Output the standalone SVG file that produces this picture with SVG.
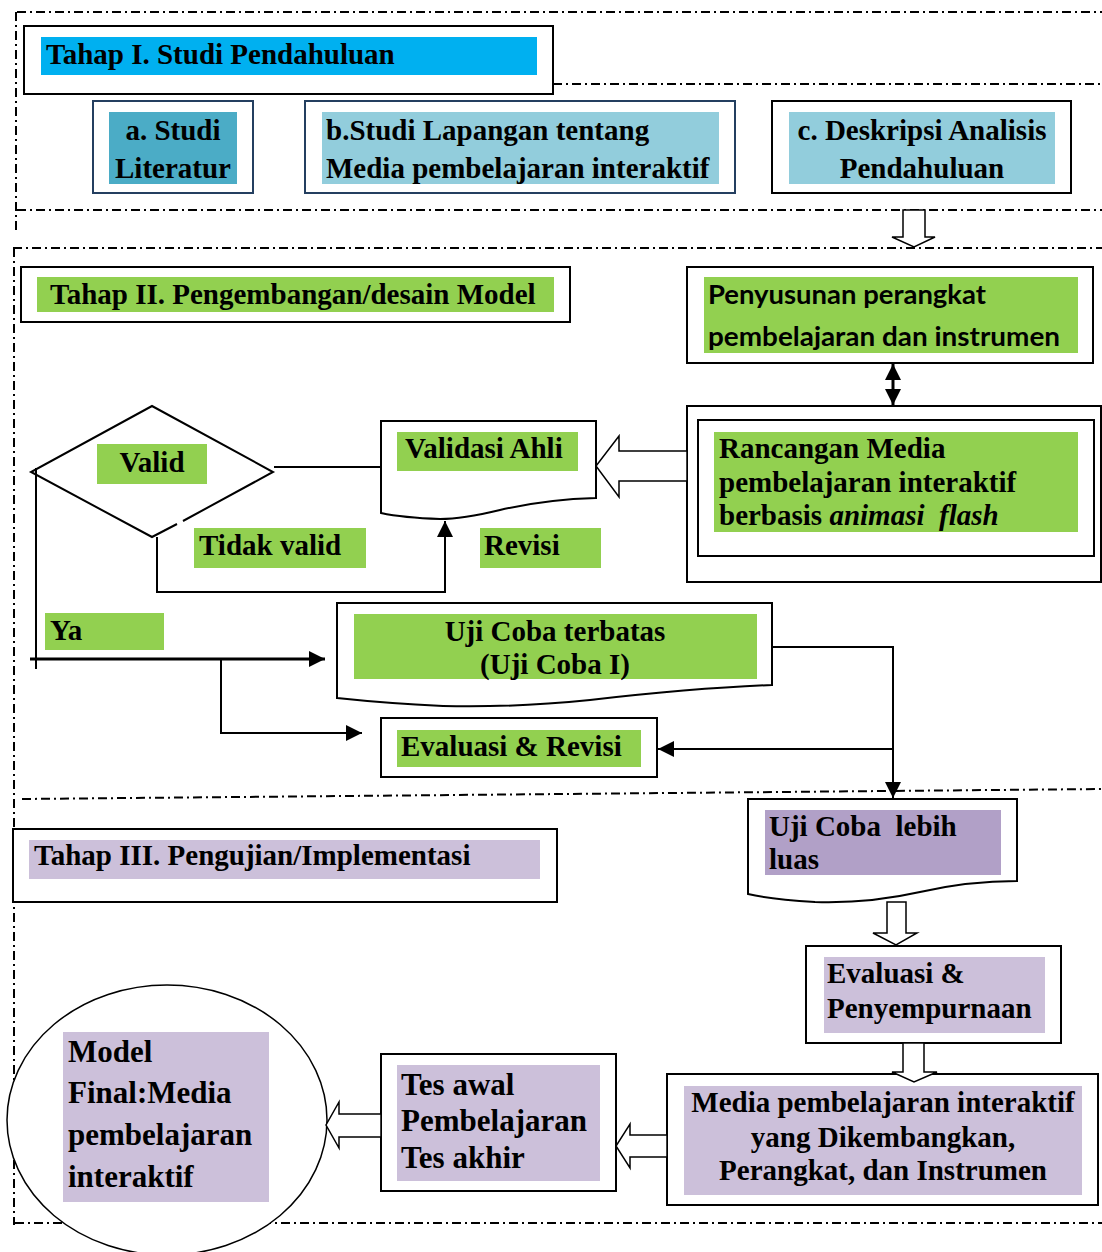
<svg xmlns="http://www.w3.org/2000/svg" width="1102" height="1252" viewBox="0 0 1102 1252">
<style>
.frame{fill:none;stroke:#000;stroke-width:2;stroke-dasharray:9 4 2 4}
.box{fill:#fff;stroke:#000;stroke-width:2}
.nbox{fill:#fff;stroke:#243F60;stroke-width:2}
.t{font-family:"Liberation Serif","Times New Roman",serif;font-weight:bold;font-size:29px;fill:#000}
.tl{font-family:"Liberation Serif","Times New Roman",serif;font-weight:bold;font-size:31px;fill:#000}
.s{font-family:Lato,"Liberation Sans",sans-serif;font-weight:bold;font-size:26px;fill:#000}
.c{text-anchor:middle}
.blue{fill:#00B0F0}.teal{fill:#4BACC6}.lblue{fill:#92CDDC}.green{fill:#92D050}.lav{fill:#CCC0DA}.pur{fill:#B1A0C7}
.ln{fill:none;stroke:#000;stroke-width:2}
.hollow{fill:#fff;stroke:#000;stroke-width:1.5}
</style>
<defs>
<marker id="ah" viewBox="0 0 16 16" refX="16" refY="8" markerWidth="16" markerHeight="16" markerUnits="userSpaceOnUse" orient="auto-start-reverse">
<path d="M0,0 L16,8 L0,16 Z" fill="#000"/>
</marker>
</defs>
<rect width="1102" height="1252" fill="#fff"/>
<g id="frames">
<path class="frame" d="M17,12 H1102"/>
<path class="frame" d="M16,12 V232"/>
<path class="frame" d="M553,84 H1102"/>
<path class="frame" d="M17,210 H1102"/>
<path class="frame" d="M13,248 H1102"/>
<path class="frame" d="M14,248 V1225"/>
<path class="frame" d="M22,799 L1102,789"/>
<path class="frame" d="M15,1223 H1102"/>
</g>
<g id="tahap1">
<rect class="box" x="24" y="26" width="529" height="68"/>
<rect class="blue" x="41" y="37" width="496" height="38"/>
<text class="t" x="46" y="64">Tahap I. Studi Pendahuluan</text>
</g>
<g id="studi-literatur">
<rect class="nbox" x="93" y="101" width="160" height="92"/>
<rect class="teal" x="109" y="112" width="128" height="72"/>
<text class="t c" x="173" y="140">a. Studi</text>
<text class="t c" x="173" y="178">Literatur</text>
</g>
<g id="studi-lapangan">
<rect class="nbox" x="305" y="101" width="430" height="92"/>
<rect class="lblue" x="322" y="112" width="397" height="72"/>
<text class="t" x="326" y="140">b.Studi Lapangan tentang</text>
<text class="t" x="326" y="178">Media pembelajaran interaktif</text>
</g>
<g id="deskripsi">
<rect class="box" x="772" y="101" width="299" height="92"/>
<rect class="lblue" x="789" y="112" width="266" height="72"/>
<text class="t c" x="922" y="140">c. Deskripsi Analisis</text>
<text class="t c" x="922" y="178">Pendahuluan</text>
</g>
<g id="tahap2">
<rect class="box" x="21" y="267" width="549" height="55"/>
<rect class="green" x="37" y="277" width="517" height="35"/>
<text class="t" x="50" y="304">Tahap II. Pengembangan/desain Model</text>
</g>
<g id="penyusunan">
<rect class="box" x="687" y="267" width="406" height="96"/>
<rect class="green" x="704" y="277" width="374" height="76"/>
<text class="s" x="708" y="304" textLength="278" lengthAdjust="spacingAndGlyphs">Penyusunan perangkat</text>
<text class="s" x="708" y="346" textLength="352" lengthAdjust="spacingAndGlyphs">pembelajaran dan instrumen</text>
</g>
<g id="rancangan">
<rect class="box" x="687" y="406" width="414" height="176"/>
<rect class="box" x="698" y="420" width="396" height="136"/>
<rect class="green" x="714" y="432" width="364" height="100"/>
<text class="t" x="719" y="458">Rancangan Media</text>
<text class="t" x="719" y="492">pembelajaran interaktif</text>
<text class="t" x="719" y="525" style="white-space:pre">berbasis <tspan font-style="italic">animasi  flash</tspan></text>
</g>
<g id="validasi">
<path class="box" d="M381,421 H596 V498 C560,499 530,503 500,510 C475,516 455,519 440,519 C410,518 395,516 381,513 Z"/>
<rect class="green" x="397" y="432" width="181" height="39"/>
<text class="t" x="405" y="458">Validasi Ahli</text>
</g>
<g id="diamond">
<path class="ln" d="M183,521 L273,472 L152,406 L31,472 L152,537 L177,524"/>
<rect class="green" x="97" y="444" width="110" height="40"/>
<text class="t c" x="152" y="472">Valid</text>
</g>
<g id="label-tidak">
<rect class="green" x="194" y="528" width="172" height="40"/>
<text class="t" x="199" y="555">Tidak valid</text>
</g>
<g id="label-revisi">
<rect class="green" x="480" y="528" width="121" height="40"/>
<text class="t" x="484" y="555">Revisi</text>
</g>
<g id="label-ya">
<rect class="green" x="45" y="613" width="119" height="37"/>
<text class="t" x="50" y="640">Ya</text>
</g>
<g id="uji-terbatas">
<path class="box" d="M337,603 H772 V685 C720,687 660,692 590,700 C530,706 480,707 443,706 C400,704 365,701 337,698 Z"/>
<rect class="green" x="354" y="614" width="403" height="65"/>
<text class="t c" x="555" y="641">Uji Coba terbatas</text>
<text class="t c" x="555" y="674">(Uji Coba I)</text>
</g>
<g id="evaluasi-revisi">
<rect class="box" x="381" y="718" width="276" height="59"/>
<rect class="green" x="397" y="730" width="244" height="37"/>
<text class="t" x="401" y="756">Evaluasi &amp; Revisi</text>
</g>
<g id="tahap3">
<rect class="box" x="13" y="829" width="544" height="73"/>
<rect class="lav" x="29" y="840" width="511" height="39"/>
<text class="t" x="34" y="865">Tahap III. Pengujian/Implementasi</text>
</g>
<g id="uji-luas">
<path class="box" d="M748,799 H1017 V881 C985,881 955,884 920,892 C880,901 845,903 815,902 C785,900 765,898 748,894 Z"/>
<rect class="pur" x="765" y="810" width="236" height="65"/>
<text class="t" x="769" y="836" style="white-space:pre">Uji Coba  lebih</text>
<text class="t" x="769" y="869">luas</text>
</g>
<g id="evaluasi-penyempurnaan">
<rect class="box" x="806" y="946" width="255" height="97"/>
<rect class="lav" x="824" y="957" width="221" height="76"/>
<text class="t" x="827" y="983">Evaluasi &amp;</text>
<text class="t" x="827" y="1018">Penyempurnaan</text>
</g>
<g id="media-dikembangkan">
<rect class="box" x="667" y="1074" width="431" height="131"/>
<rect class="lav" x="684" y="1086" width="398" height="109"/>
<text class="t c" x="883" y="1112">Media pembelajaran interaktif</text>
<text class="t c" x="883" y="1147">yang Dikembangkan,</text>
<text class="t c" x="883" y="1180">Perangkat, dan Instrumen</text>
</g>
<g id="tes">
<rect class="box" x="381" y="1054" width="235" height="137"/>
<rect class="lav" x="397" y="1065" width="203" height="116"/>
<text class="tl" x="401" y="1095">Tes awal</text>
<text class="tl" x="401" y="1131">Pembelajaran</text>
<text class="tl" x="401" y="1168">Tes akhir</text>
</g>
<g id="model-final">
<ellipse cx="167" cy="1120" rx="160" ry="135" fill="#fff" stroke="#000" stroke-width="1.5"/>
<rect class="lav" x="63" y="1032" width="206" height="170"/>
<text class="tl" x="68" y="1062">Model</text>
<text class="tl" x="68" y="1103">Final:Media</text>
<text class="tl" x="68" y="1145">pembelajaran</text>
<text class="tl" x="68" y="1187">interaktif</text>
</g>
<g id="connectors">
<polygon class="hollow" points="903,210 925,210 925,237 935,237 914,247 892,237 903,237"/>
<line x1="893" y1="364" x2="893" y2="405" stroke="#000" stroke-width="3" marker-start="url(#ah)" marker-end="url(#ah)"/>
<polygon class="hollow" points="687,451 619,451 619,436 596,466 619,497 619,481 687,481"/>
<path class="ln" d="M274,467 H381"/>
<path class="ln" d="M157,537 V592 H445 V521" marker-end="url(#ah)"/>
<path class="ln" d="M36,468 V669"/>
<path d="M30,659 H325" fill="none" stroke="#000" stroke-width="3" marker-end="url(#ah)"/>
<path class="ln" d="M221,659 V733 H362" marker-end="url(#ah)"/>
<path class="ln" d="M772,647 H893 V798" marker-end="url(#ah)"/>
<path class="ln" d="M893,749 H658" marker-end="url(#ah)"/>
<polygon class="hollow" points="887,902 906,902 906,933 917,933 896,945 873,933 887,933"/>
<polygon class="hollow" points="903,1043 924,1043 924,1072 937,1072 914,1082 892,1072 903,1072"/>
<polygon class="hollow" points="667,1135 630,1135 630,1124 616,1146 630,1168 630,1157 667,1157"/>
<polygon class="hollow" points="381,1114 339,1114 339,1102 326,1125 339,1148 339,1137 381,1137"/>
</g>
</svg>
